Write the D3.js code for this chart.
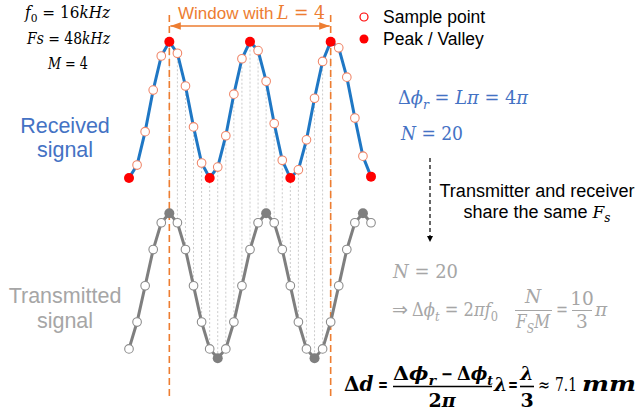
<!DOCTYPE html>
<html><head><meta charset="utf-8">
<script src="https://cdn.jsdelivr.net/npm/d3@7"></script>
<style>body{margin:0;background:#fff}svg{display:block}</style>
</head><body>
<script>
// ---- data ----
const sampleIndex = d3.range(0, 31);
const receivedValues = [-1.0,-0.81,-0.32,0.29,0.79,1.0,0.83,0.35,-0.25,-0.78,-1.0,-0.84,-0.38,0.23,0.75,1.0,0.87,0.42,-0.2,-0.74,-1.0,-0.88,-0.44,0.17,0.71,1.0,0.91,0.48,-0.12,-0.68,-0.98];
const receivedExtrema = [0,5,10,15,20,25,30];
const transmittedValues = [-0.87,-0.5,0,0.5,0.87,1,0.87,0.5,0,-0.5,-0.87,-1,-0.87,-0.5,0,0.5,0.87,1,0.87,0.5,0,-0.5,-0.87,-1,-0.87,-0.5,0,0.5,0.87,1,0.87];
const transmittedExtrema = [5,11,17,23,29];
const windowRange = [5, 25];
const legendLabels = ["Sample point", "Peak / Valley"];

const W = 639, H = 413;
const svg = d3.select("body").append("svg").attr("width", W).attr("height", H);

const x = d3.scaleLinear().domain([0, 30]).range([129, 371]);
const yR = d3.scaleLinear().domain([-1, 1]).range([178, 41.7]);
const yT = d3.scaleLinear().domain([-1, 1]).range([358.3, 213.3]);

const BLUE = "#1f77c4", RED = "#ff0000", OPEN = "#f0876a", GRAY = "#7f7f7f", ORANGE = "#ed7d31";
const SERIF = "'DejaVu Serif', 'Liberation Serif', serif";
const SANS = "'Liberation Sans', Arial, sans-serif";

// vertical dotted connectors inside window
const inWin = sampleIndex.filter(k => k >= windowRange[0] && k <= windowRange[1]);
svg.append("g").selectAll("line").data(inWin).join("line")
  .attr("x1", k => x(k)).attr("x2", k => x(k))
  .attr("y1", k => yR(receivedValues[k])).attr("y2", k => yT(transmittedValues[k]))
  .attr("stroke", "#cccccc").attr("stroke-width", 1).attr("stroke-dasharray", "2,2");

// window dashed lines
svg.append("g").selectAll("line").data(windowRange).join("line")
  .attr("x1", k => x(k)).attr("x2", k => x(k))
  .attr("y1", 15).attr("y2", 396)
  .attr("stroke", ORANGE).attr("stroke-width", 1.6).attr("stroke-dasharray", "7,4");

// arrow markers
const defs = svg.append("defs");
defs.append("marker").attr("id", "oa").attr("viewBox", "0 0 10 10").attr("refX", 10).attr("refY", 5)
  .attr("markerWidth", 7).attr("markerHeight", 7).attr("orient", "auto-start-reverse")
  .append("path").attr("d", "M0,1.5 L10,5 L0,8.5 Z").attr("fill", ORANGE);
defs.append("marker").attr("id", "ka").attr("viewBox", "0 0 10 10").attr("refX", 10).attr("refY", 5)
  .attr("markerWidth", 5).attr("markerHeight", 5).attr("orient", "auto")
  .append("path").attr("d", "M0,0 L10,5 L0,10 Z").attr("fill", "#000");
svg.append("line").attr("x1", x(windowRange[0]) + 1).attr("x2", x(windowRange[1]) - 1)
  .attr("y1", 26).attr("y2", 26).attr("stroke", ORANGE).attr("stroke-width", 1.5)
  .attr("marker-start", "url(#oa)").attr("marker-end", "url(#oa)");

// math text helper
function mathText(xp, yp, parts, opts = {}) {
  const size = opts.size || 17;
  const t = svg.append("text").attr("x", xp).attr("y", yp).attr("font-family", opts.family || SERIF)
    .attr("font-size", size).attr("fill", opts.fill || "#000")
    .attr("text-anchor", opts.anchor || "start");
  if (opts.bold) t.attr("font-weight", "bold");
  if (opts.len) t.attr("textLength", opts.len).attr("lengthAdjust", "spacingAndGlyphs");
  parts.forEach(p => {
    const s = t.append("tspan").text(p.t);
    if (p.i) s.attr("font-style", "italic");
    if (p.sub) s.attr("font-size", size * 0.7).attr("dy", size * 0.25);
    if (p.up) s.attr("dy", -size * 0.25);
  });
  return t;
}

// window label
svg.append("text").attr("x", 178).attr("y", 19).attr("fill", ORANGE).attr("font-size", 17)
  .attr("font-family", SANS).text("Window with");
mathText(277, 19, [{t:"L", i:1},{t:" = 4"}], {fill:ORANGE, size:18, len:48});

// received line
const lineR = d3.line().x(k => x(k)).y(k => yR(receivedValues[k]));
svg.append("path").attr("d", lineR(sampleIndex)).attr("fill", "none").attr("stroke", BLUE).attr("stroke-width", 3);
svg.append("g").selectAll("circle").data(sampleIndex.filter(k => !receivedExtrema.includes(k))).join("circle")
  .attr("cx", k => x(k)).attr("cy", k => yR(receivedValues[k])).attr("r", 4.3)
  .attr("fill", "#fff").attr("stroke", OPEN).attr("stroke-width", 1.1);
svg.append("g").selectAll("circle").data(receivedExtrema).join("circle")
  .attr("cx", k => x(k)).attr("cy", k => yR(receivedValues[k])).attr("r", 5)
  .attr("fill", RED);

// transmitted line
const lineT = d3.line().x(k => x(k)).y(k => yT(transmittedValues[k]));
svg.append("path").attr("d", lineT(sampleIndex)).attr("fill", "none").attr("stroke", GRAY).attr("stroke-width", 3);
svg.append("g").selectAll("circle").data(transmittedExtrema).join("circle")
  .attr("cx", k => x(k)).attr("cy", k => yT(transmittedValues[k])).attr("r", 5)
  .attr("fill", GRAY);
svg.append("g").selectAll("circle").data(sampleIndex.filter(k => !transmittedExtrema.includes(k))).join("circle")
  .attr("cx", k => x(k)).attr("cy", k => yT(transmittedValues[k])).attr("r", 4.3)
  .attr("fill", "#fff").attr("stroke", "#8c8c8c").attr("stroke-width", 1.1);

// legend
svg.append("circle").attr("cx", 364).attr("cy", 17).attr("r", 4).attr("fill", "#fff").attr("stroke", RED).attr("stroke-width", 1.2);
svg.append("circle").attr("cx", 364).attr("cy", 39).attr("r", 4.5).attr("fill", RED);
svg.selectAll("text.leg").data(legendLabels).join("text").attr("class", "leg")
  .attr("x", 383).attr("y", (d, i) => 23 + i * 22).attr("font-size", 17.5).attr("font-family", SANS)
  .attr("fill", "#000").text(d => d);

// left parameters
mathText(25, 18, [{t:"f", i:1},{t:"0", sub:1},{t:" = 16", up:1},{t:"kHz", i:1}], {len:85, size:16.5});
mathText(27, 44, [{t:"Fs", i:1},{t:" = 48"},{t:"kHz", i:1}], {len:83, size:16.5});
mathText(48, 69, [{t:"M", i:1},{t:" = 4"}], {len:40, size:16.5});

// signal labels
[["Received", 133], ["signal", 157]].forEach(([s, yy]) =>
  svg.append("text").attr("x", 65).attr("y", yy).attr("text-anchor", "middle").attr("font-family", SANS)
    .attr("font-size", 21.5).attr("fill", "#4472c4").text(s));
[["Transmitted", 303], ["signal", 328]].forEach(([s, yy]) =>
  svg.append("text").attr("x", 65).attr("y", yy).attr("text-anchor", "middle").attr("font-family", SANS)
    .attr("font-size", 21.5).attr("fill", "#a6a6a6").text(s));

// right side formulas
const BL = "#4472c4";
mathText(398, 104, [{t:"Δ"},{t:"ϕ", i:1},{t:"r", i:1, sub:1},{t:" = ", up:1},{t:"L", i:1},{t:"π", i:1},{t:" = 4"},{t:"π", i:1}], {fill:BL, size:18.5, len:130});
mathText(401, 140, [{t:"N", i:1},{t:" = 20"}], {fill:BL, size:18.5, len:62});

// dashed arrow and note
svg.append("line").attr("x1", 430).attr("x2", 430).attr("y1", 158).attr("y2", 242)
  .attr("stroke", "#000").attr("stroke-width", 1.2).attr("stroke-dasharray", "4,3").attr("marker-end", "url(#ka)");
svg.append("text").attr("x", 537).attr("y", 197).attr("text-anchor", "middle").attr("font-family", SANS)
  .attr("font-size", 18).attr("fill", "#000").attr("textLength", 195).attr("lengthAdjust", "spacingAndGlyphs")
  .text("Transmitter and receiver");
const st = svg.append("text").attr("x", 537).attr("y", 218).attr("text-anchor", "middle").attr("font-family", SANS)
  .attr("font-size", 18).attr("fill", "#000");
st.append("tspan").text("share the same ");
st.append("tspan").attr("font-family", SERIF).attr("font-style", "italic").attr("font-size", 17).text("F");
st.append("tspan").attr("font-family", SERIF).attr("font-style", "italic").attr("font-size", 12).attr("dy", 4).text("s");

// transmitted-side formulas
const LG = "#a6a6a6";
mathText(393, 278, [{t:"N", i:1},{t:" = 20"}], {fill:LG, size:18.5, len:65});
mathText(392, 316, [{t:"⇒"}], {fill:LG, size:19, family:"'DejaVu Sans', sans-serif", len:16});
mathText(412, 316, [{t:"Δ"},{t:"ϕ", i:1},{t:"t", i:1, sub:1},{t:" = 2", up:1},{t:"π", i:1},{t:"f", i:1},{t:"0", sub:1}], {fill:LG, size:18.5, len:86});
mathText(533, 303, [{t:"N", i:1}], {fill:LG, size:18.5, anchor:"middle"});
svg.append("line").attr("x1", 515).attr("x2", 552).attr("y1", 310.5).attr("y2", 310.5).attr("stroke", LG).attr("stroke-width", 1);
mathText(533, 328, [{t:"F", i:1},{t:"S", i:1, sub:1},{t:"M", i:1, up:1}], {fill:LG, size:18.5, anchor:"middle", len:34});
mathText(556, 316, [{t:"="}], {fill:LG, size:18.5, len:12});
mathText(582, 305, [{t:"10"}], {fill:LG, size:18.5, anchor:"middle"});
svg.append("line").attr("x1", 572).attr("x2", 592).attr("y1", 310.5).attr("y2", 310.5).attr("stroke", LG).attr("stroke-width", 1);
mathText(582, 328, [{t:"3"}], {fill:LG, size:18.5, anchor:"middle"});
mathText(595, 316, [{t:"π", i:1}], {fill:LG, size:18.5});

// bottom bold formula
mathText(344, 391, [{t:"Δ"},{t:"d", i:1}], {size:20, bold:1});
mathText(378, 391, [{t:"="}], {size:18, bold:1, len:10});
mathText(393, 380, [{t:"Δ"},{t:"ϕ", i:1},{t:"r", i:1, sub:1}], {size:19, bold:1, len:43});
mathText(441, 380, [{t:"−"}], {size:18, bold:1, len:12});
mathText(457, 380, [{t:"Δ"},{t:"ϕ", i:1},{t:"t", i:1, sub:1}], {size:19, bold:1, len:36});
svg.append("line").attr("x1", 393).attr("x2", 492).attr("y1", 386.5).attr("y2", 386.5).attr("stroke", "#000").attr("stroke-width", 1.6);
mathText(442, 407, [{t:"2"},{t:"π", i:1}], {size:19, bold:1, anchor:"middle"});
mathText(494, 391, [{t:"λ", i:1}], {size:19, bold:1});
mathText(508, 391, [{t:"="}], {size:18, bold:1, len:10});
mathText(527, 380, [{t:"λ", i:1}], {size:19, bold:1, anchor:"middle"});
svg.append("line").attr("x1", 520).attr("x2", 534).attr("y1", 386.5).attr("y2", 386.5).attr("stroke", "#000").attr("stroke-width", 1.6);
mathText(527, 407, [{t:"3"}], {size:19, bold:1, anchor:"middle"});
mathText(538, 391, [{t:"≈"}], {size:18, len:12});
mathText(555, 391, [{t:"7.1"}], {size:18, len:22});
mathText(582, 391, [{t:"mm", i:1}], {size:20, bold:1, len:54});
</script>
</body></html>
